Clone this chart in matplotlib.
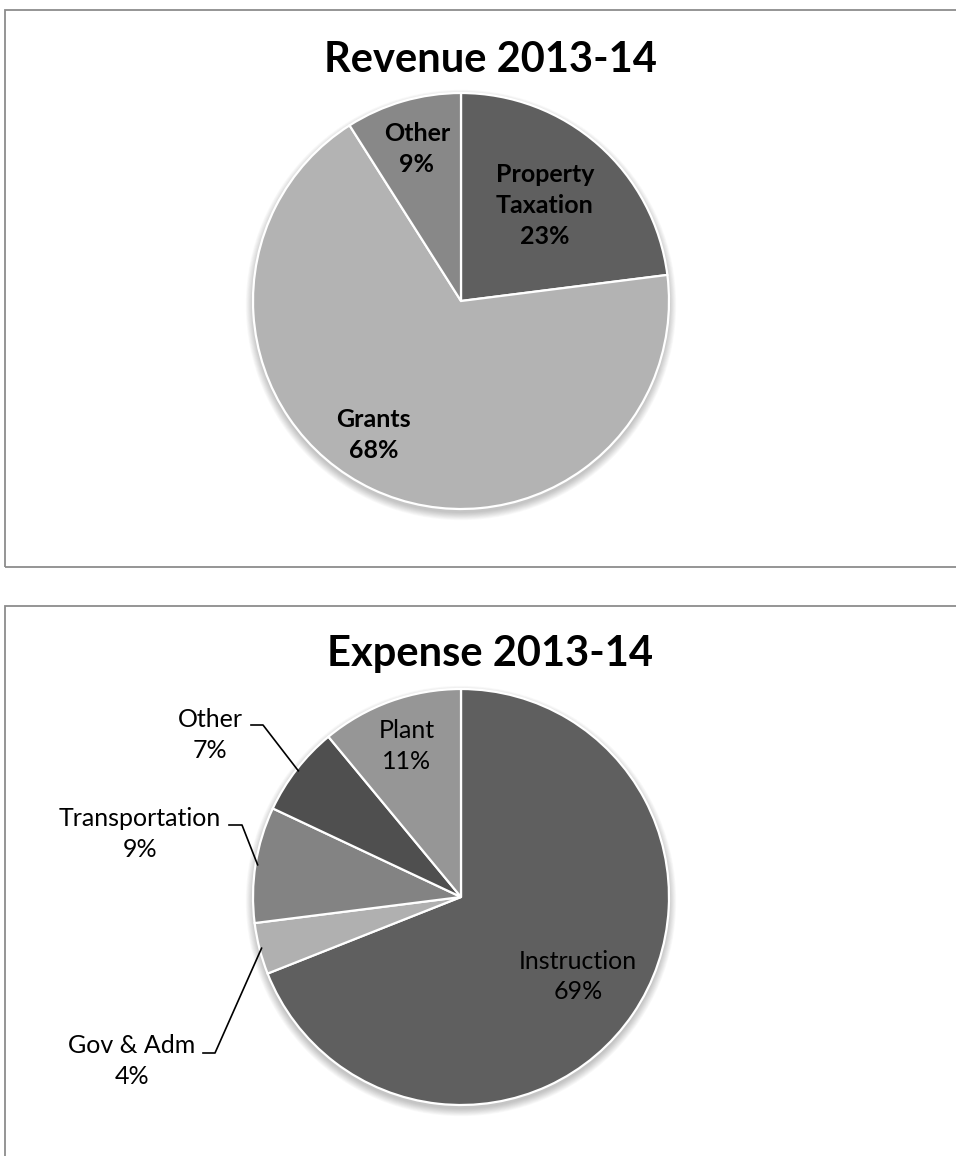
import numpy as np
import matplotlib.pyplot as plt
from matplotlib.patches import Rectangle, Circle

# revenue split
rev_labels = ["Property\nTaxation", "Grants", "Other"]
rev_values = [23, 68, 9]

# expense split
exp_labels = ["Instruction", "Gov & Adm", "Transportation", "Other", "Plant"]
exp_values = [69, 4, 9, 7, 11]

rev_colors = ["#5f5f5f", "#b3b3b3", "#888888"]
exp_colors = ["#5f5f5f", "#b0b0b0", "#838383", "#4f4f4f", "#969696"]

W, H = 956, 1156
R = 208
plt.rcParams['font.family'] = ['Lato', 'DejaVu Sans']

fig = plt.figure(figsize=(W / 100, H / 100), dpi=100)
ax = fig.add_axes([0, 0, 1, 1])


def yy(y):
    # image-style y (from top) to axes y
    return H - y


def shadow(cx, cy):
    for i in range(10):
        ax.add_patch(Circle((cx, cy - 4), R + i * 0.8, color="black",
                            alpha=0.025, lw=0, zorder=1))


def draw_pie(values, colors, cx, cy):
    shadow(cx, cy)
    wedges, _ = ax.pie(values, colors=colors, startangle=90, counterclock=False,
                       center=(cx, cy), radius=R,
                       wedgeprops=dict(edgecolor="white", linewidth=1.6, zorder=2))
    return wedges


def mid_point(w, dist, shift=0):
    a = np.deg2rad((w.theta1 + w.theta2) / 2 + shift)
    cx, cy = w.center
    return cx + dist * R * np.cos(a), cy + dist * R * np.sin(a)


# panel frames
ax.add_patch(Rectangle((5, yy(567)), 1000, 557, fill=False, edgecolor="#8c8c8c", lw=1.3, zorder=0))
ax.add_patch(Rectangle((5, -20), 1000, yy(606) + 20, fill=False, edgecolor="#8c8c8c", lw=1.3, zorder=0))

# top chart
cx1, cy1 = 461, yy(301)
ax.text(490, yy(60), "Revenue 2013-14", ha="center", va="center",
        fontsize=30, fontweight="bold")
wedges = draw_pie(rev_values, rev_colors, cx1, cy1)
rev_pos = [(0.61, 0), (0.77, -8), (0.76, 0)]
for w, lab, v, (d, s) in zip(wedges, rev_labels, rev_values, rev_pos):
    x, y = mid_point(w, d, s)
    ax.text(x, y, f"{lab}\n{v}%", ha="center", va="center", fontsize=18,
            fontweight="bold", linespacing=1.42, zorder=5)

# bottom chart
cx2, cy2 = 461, yy(897)
ax.text(490, yy(654), "Expense 2013-14", ha="center", va="center",
        fontsize=30, fontweight="bold")
wedges = draw_pie(exp_values, exp_colors, cx2, cy2)

inside = {"Instruction": 0.68, "Plant": 0.77}
# label centre, leader elbow (x0, x1, y) for the small slices
outside = {
    "Gov & Adm": ((132, 1061), (203, 215, 1053)),
    "Transportation": ((140, 834), (229, 242, 825)),
    "Other": ((210, 735), (251, 263, 725)),
}
for w, lab, v in zip(wedges, exp_labels, exp_values):
    if lab in inside:
        x, y = mid_point(w, inside[lab])
        ax.text(x, y, f"{lab}\n{v}%", ha="center", va="center", fontsize=18,
                linespacing=1.42, zorder=5)
    else:
        (tx, ty), (x0, x1, ly) = outside[lab]
        ax.text(tx, yy(ty), f"{lab}\n{v}%", ha="center", va="center", fontsize=18,
                linespacing=1.42, zorder=5)
        ex, ey = mid_point(w, 0.99)
        ax.plot([x0, x1, ex], [yy(ly), yy(ly), ey], color="black", lw=1.2, zorder=4)

ax.set_xlim(0, W)
ax.set_ylim(0, H)
ax.axis("off")

fig.savefig("out.png", dpi=100, facecolor="white")
